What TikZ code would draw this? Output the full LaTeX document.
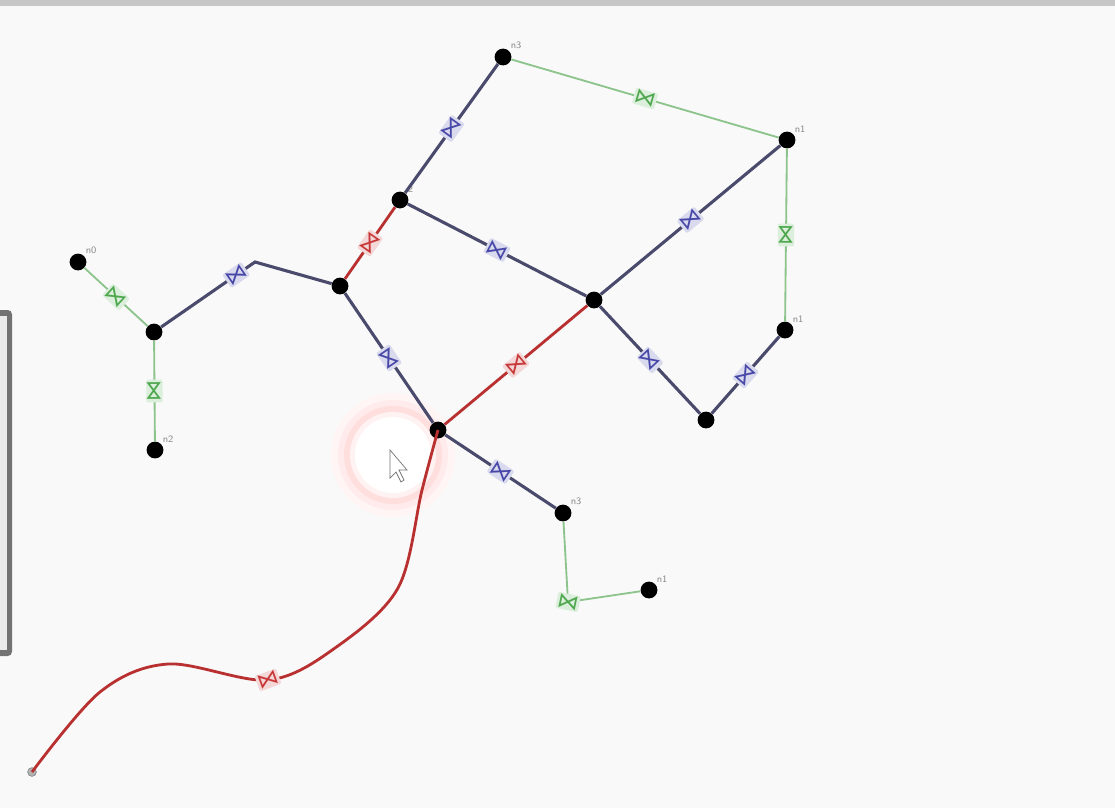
\documentclass[tikz,border=0pt]{standalone}
\usepackage{fontspec}
\newfontfamily\glyphfont{DejaVu Sans}
\usetikzlibrary{arrows.meta,positioning,calc}

\definecolor{wireblue}{HTML}{4A4A6C}
\definecolor{railgreen}{HTML}{8CC48C}
\definecolor{hotred}{HTML}{B83030}
\definecolor{tagblue}{HTML}{4848A8}
\definecolor{taggreen}{HTML}{4FA84F}
\definecolor{tagred}{HTML}{C83838}
\definecolor{paper}{HTML}{F9F9F9}

\tikzset{
  vertex/.style={circle, fill=black, inner sep=0pt, minimum size=0.42cm},
  idlabel/.style={font=\scriptsize\sffamily, text=black!45, inner sep=1pt},
  wire/.style={draw=wireblue, line width=2.2pt},
  rail/.style={draw=railgreen, line width=1.3pt},
  hot/.style={draw=hotred, line width=2pt},
  tag/.style={sloped, font=\glyphfont\fontsize{15}{15}\selectfont, inner sep=0.6pt,
    text=#1, fill=#1!20, rounded corners=1pt},
}

\begin{document}
\begin{tikzpicture}[x=0.025cm, y=-0.025cm]
  % canvas
  \fill[paper] (0,0) rectangle (1115,808);
  \useasboundingbox (0,0) rectangle (1115,808);
  \fill[black!22] (0,0) rectangle (1115,6);
  \fill[black!55, rounded corners=3pt] (-10,310) rectangle (12,656);
  \fill[black!8] (-10,316) rectangle (7,650);

  % cursor highlight
  \fill[red!4] (393,455) circle (62);
  \fill[red!8] (393,455) circle (55);
  \fill[red!13] (393,455) circle (49);
  \fill[red!5] (393,455) circle (43);
  \fill[white] (393,455) circle (38);
  \draw[black!55, fill=white, line width=0.5pt]
    (390,450) -- (390,478) -- (396,472) -- (401,482) -- (404,480) -- (399,470) -- (407,470) -- cycle;

  % vertices
  \node[vertex] (A) at (503,57) {};
  \node[vertex] (B) at (787,140) {};
  \node[vertex] (C) at (400,200) {};
  \node[vertex] (D) at (340,286) {};
  \node[vertex] (E) at (78,262) {};
  \node[vertex] (F) at (154,332) {};
  \node[vertex] (G) at (155,450) {};
  \node[vertex] (H) at (594,300) {};
  \node[vertex] (I) at (785,330) {};
  \node[vertex] (J) at (706,420) {};
  \node[vertex] (K) at (438,430) {};
  \node[vertex] (L) at (563,513) {};
  \node[vertex] (M) at (649,590) {};
  \node[circle, draw=black!50, fill=black!30, inner sep=0pt, minimum size=0.22cm] (N) at (32,772) {};

  % vertex ids
  \node[idlabel, anchor=south west] at (A.north east) {n3};
  \node[idlabel, anchor=south west] at (B.north east) {n1};
  \node[idlabel, anchor=south west] at (C.north east) {2};
  \node[idlabel, anchor=south west] at (E.north east) {n0};
  \node[idlabel, anchor=south west] at (I.north east) {n1};
  \node[idlabel, anchor=south west] at (G.north east) {n2};
  \node[idlabel, anchor=south west] at (L.north east) {n3};
  \node[idlabel, anchor=south west] at (M.north east) {n1};

  % bends
  \coordinate (b1) at (255,262);
  \coordinate (b2) at (568,602);
  \coordinate (q1) at (422,490);
  \coordinate (q2) at (398,588);
  \coordinate (q3) at (335,648);
  \coordinate (q4) at (268,680);
  \coordinate (q5) at (168,664);
  \coordinate (q6) at (100,692);

  % green edges
  \draw[rail] (A) -- node[tag=taggreen] {⋈} (B);
  \draw[rail] (B) -- node[tag=taggreen] {⋈} (I);
  \draw[rail] (E) -- node[tag=taggreen] {⋈} (F);
  \draw[rail] (F) -- node[tag=taggreen] {⋈} (G);
  \draw[rail] (L) -- (b2) -- (M);
  \node[tag=taggreen, rotate=-12] at (b2) {⋈};

  % blue edges
  \draw[wire] (A) -- node[tag=tagblue] {⋈} (C);
  \draw[wire] (C) -- node[tag=tagblue] {⋈} (H);
  \draw[wire] (B) -- node[tag=tagblue] {⋈} (H);
  \draw[wire] (I) -- node[tag=tagblue] {⋈} (J);
  \draw[wire] (H) -- node[tag=tagblue] {⋈} (J);
  \draw[wire] (D) -- node[tag=tagblue] {⋈} (K);
  \draw[wire] (K) -- node[tag=tagblue] {⋈} (L);
  \draw[wire] (F) -- node[tag=tagblue, pos=0.8] {⋈} (b1) -- (D);

  % red edges
  \draw[hot] (C) -- node[tag=tagred] {⋈} (D);
  \draw[hot] (K) -- node[tag=tagred] {⋈} (H);
  \draw[hot] plot[smooth, tension=0.55] coordinates {(K.center) (q1) (q2) (q3) (q4) (q5) (q6) (N.center)};
  \node[tag=tagred, rotate=20] at (q4) {⋈};
\end{tikzpicture}
\end{document}
